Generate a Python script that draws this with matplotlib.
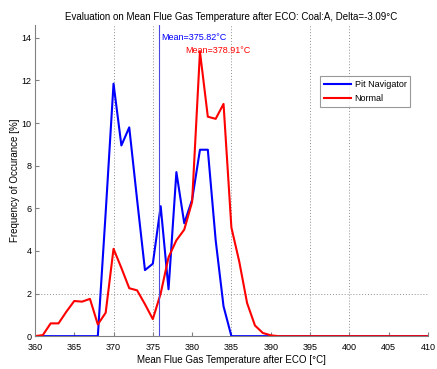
import matplotlib
matplotlib.use("Agg")
import matplotlib.pyplot as plt

plt.rcParams['font.family'] = ['Liberation Sans', 'DejaVu Sans']

# Temperature bins (degC)
temps = list(range(360, 411))

# Frequency of occurance [%]
pit_nav = [0, 0, 0, 0, 0, 0, 0, 0, 0, 5.8,
           11.85, 8.95, 9.8, 6.4, 3.1, 3.4, 6.1, 2.2, 7.7, 5.3,
           6.4, 8.75, 8.75, 4.5, 1.4, 0, 0, 0, 0, 0,
           0, 0, 0, 0, 0, 0, 0, 0, 0, 0,
           0, 0, 0, 0, 0, 0, 0, 0, 0, 0, 0]
normal = [0, 0.05, 0.6, 0.6, 1.15, 1.65, 1.62, 1.75, 0.55, 1.1,
          4.1, 3.2, 2.25, 2.15, 1.5, 0.8, 2.0, 3.7, 4.5, 5.0,
          6.3, 13.35, 10.3, 10.2, 10.9, 5.1, 3.5, 1.55, 0.5, 0.15,
          0.04, 0, 0, 0, 0, 0, 0, 0, 0, 0,
          0, 0, 0, 0, 0, 0, 0, 0, 0, 0, 0]

mean_pit = 375.82
mean_normal = 378.91
delta = -3.09

# grid lines that survived in the original picture
grid_x = [370, 375, 385, 395, 400, 410]
grid_y = [2]

fig = plt.figure(figsize=(4.37, 3.69), dpi=100)
ax = fig.add_axes([0.080, 0.089, 0.899, 0.843])

for gx in grid_x:
    ax.axvline(gx, color='#909090', ls=(0, (1, 2)), lw=0.7, zorder=0)
for gy in grid_y:
    ax.axhline(gy, color='#909090', ls=(0, (1, 2)), lw=0.7, zorder=0)

ax.plot(temps, pit_nav, color='#0000ff', lw=1.5, label='Pit Navigator')
ax.plot(temps, normal, color='#ff0000', lw=1.5, label='Normal')

ax.axvline(mean_pit, color='#4848e0', lw=0.8)
ax.text(mean_pit + 0.2, 14.0, 'Mean=%.2f°C' % mean_pit, color='#0000ff',
        fontsize=6.5, ha='left', va='center')
ax.text(mean_normal + 0.2, 13.4, 'Mean=%.2f°C' % mean_normal, color='#ff0000',
        fontsize=6.5, ha='left', va='center')

ax.set_xlim(360, 410)
ax.set_ylim(0, 14.6)
ax.set_xticks(range(360, 411, 5))
ax.set_yticks(range(0, 15, 2))
ax.tick_params(direction='in', length=3, labelsize=6.5, color='#808080')
ax.tick_params(axis='x', pad=5)
ax.tick_params(axis='y', pad=2.5)
for side in ['top', 'right']:
    ax.spines[side].set_visible(False)
for side in ['left', 'bottom']:
    ax.spines[side].set_color('#808080')

ax.set_title('Evaluation on Mean Flue Gas Temperature after ECO: Coal:A, Delta=%.2f°C' % delta,
             fontsize=7, pad=4)
ax.set_xlabel('Mean Flue Gas Temperature after ECO [°C]', fontsize=7, labelpad=2)
ax.set_ylabel('Frequency of Occurance [%]', fontsize=7, labelpad=1)

leg = ax.legend(loc='upper left', bbox_to_anchor=(0.725, 0.836), fontsize=6.5,
                frameon=True, fancybox=False, handlelength=3.0, handletextpad=0.4,
                borderpad=0.45, labelspacing=0.55, borderaxespad=0)
leg.get_frame().set_edgecolor('#808080')
leg.get_frame().set_linewidth(0.8)

fig.savefig('out.png', dpi=100)
plt.close()
